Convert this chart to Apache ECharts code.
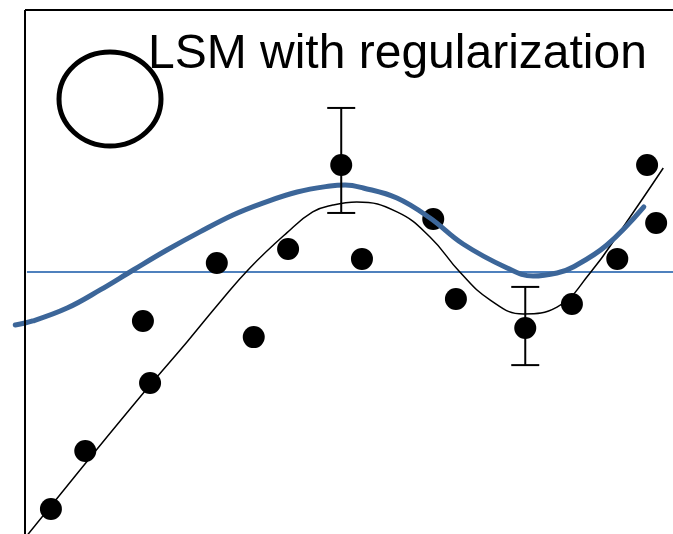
<!DOCTYPE html>
<html>
<head>
<meta charset="utf-8">
<script src="https://cdn.jsdelivr.net/npm/echarts@6/dist/echarts.min.js"></script>
<style>
  html, body { margin: 0; padding: 0; background: #ffffff; }
  #chart { width: 673px; height: 534px; }
</style>
</head>
<body>
<div id="chart"></div>
<script>
const titleText = 'LSM with regularization';

// noisy observations
const obsX = [0.040, 0.093, 0.182, 0.193, 0.296, 0.353, 0.406, 0.488, 0.520, 0.630, 0.665, 0.772, 0.844, 0.914, 0.960, 0.974];
const obsY = [-1.176, -0.888, -0.243, -0.551, 0.045, -0.323, 0.114, 0.531, 0.065, 0.263, -0.134, -0.278, -0.159, 0.065, 0.531, 0.243];

// underlying curve
const trueX = [0.000, 0.100, 0.193, 0.250, 0.301, 0.347, 0.404, 0.444, 0.475, 0.512, 0.574, 0.625, 0.671, 0.718, 0.769, 0.821, 0.872, 0.923, 0.985];
const trueY = [-1.320, -0.923, -0.561, -0.347, -0.149, 0.020, 0.194, 0.298, 0.332, 0.347, 0.298, 0.174, 0.000, -0.139, -0.208, -0.174, -0.005, 0.223, 0.516];

// regularized least-squares fit
const fitX = [-0.015, 0.012, 0.065, 0.116, 0.167, 0.219, 0.270, 0.321, 0.367, 0.420, 0.471, 0.494, 0.522, 0.574, 0.625, 0.676, 0.744, 0.784, 0.821, 0.846, 0.898, 0.955];
const fitY = [-0.263, -0.243, -0.179, -0.089, 0.010, 0.109, 0.199, 0.283, 0.342, 0.397, 0.427, 0.432, 0.417, 0.367, 0.268, 0.139, 0.020, -0.020, -0.005, 0.025, 0.134, 0.323];

// mean level
const meanX = [0.003, 1.0];
const meanY = [0, 0];

// error bars
const errX = [0.488, 0.772];
const errLow = [0.293, -0.462];
const errHigh = [0.814, -0.074];

// axis ranges; the frame sits at x = 0 and along the top edge
const xRange = [-0.02, 1];
const yRange = [-1.3, 1.3];
const frameX = 0;

const zip = (xs, ys) => xs.map((x, i) => [x, ys[i]]);

const chart = echarts.init(document.getElementById('chart'), null, { renderer: 'canvas' });

chart.setOption({
  animation: false,
  backgroundColor: '#ffffff',
  title: {
    text: titleText,
    left: 148,
    top: 31,
    padding: 0,
    textStyle: {
      fontFamily: 'Liberation Sans, Arial, sans-serif',
      fontSize: 48,
      fontWeight: 'normal',
      color: '#000000'
    }
  },
  grid: { left: 12.04, right: 0, top: 10, bottom: 0, containLabel: false },
  xAxis: {
    type: 'value',
    min: xRange[0],
    max: xRange[1],
    axisLine: { show: false },
    axisTick: { show: false },
    axisLabel: { show: false },
    splitLine: { show: false }
  },
  yAxis: {
    type: 'value',
    min: yRange[0],
    max: yRange[1],
    axisLine: { show: false },
    axisTick: { show: false },
    axisLabel: { show: false },
    splitLine: { show: false }
  },
  graphic: [{
    type: 'ellipse',
    shape: { cx: 110, cy: 99, rx: 51, ry: 47 },
    style: { fill: 'none', stroke: '#000000', lineWidth: 5 },
    z: 10
  }],
  series: [
    {
      name: 'mean',
      type: 'line',
      data: zip(meanX, meanY),
      showSymbol: false,
      lineStyle: { color: '#4F81BD', width: 2 },
      z: 1,
      markLine: {
        silent: true,
        symbol: 'none',
        label: { show: false },
        lineStyle: { color: '#000000', width: 2, type: 'solid' },
        data: [
          [{ coord: [frameX, yRange[0]] }, { coord: [frameX, yRange[1]] }],
          [{ coord: [frameX, yRange[1]] }, { coord: [xRange[1], yRange[1]] }]
        ]
      }
    },
    {
      name: 'observations',
      type: 'scatter',
      data: zip(obsX, obsY),
      symbol: 'circle',
      symbolSize: 22,
      itemStyle: { color: '#000000', opacity: 1 },
      z: 2
    },
    {
      name: 'true curve',
      type: 'line',
      data: zip(trueX, trueY),
      smooth: 0.45,
      showSymbol: false,
      clip: true,
      lineStyle: { color: '#000000', width: 1.5 },
      z: 3
    },
    {
      name: 'regularized fit',
      type: 'line',
      data: zip(fitX, fitY),
      smooth: 0.4,
      showSymbol: false,
      lineStyle: { color: '#3C6699', width: 5, cap: 'round' },
      z: 4
    },
    {
      name: 'error bars',
      type: 'custom',
      data: errX.map((x, i) => [x, errLow[i], errHigh[i]]),
      encode: { x: 0, y: [1, 2] },
      clip: false,
      z: 5,
      renderItem: function (params, api) {
        const x = api.value(0);
        const lo = api.coord([x, api.value(1)]);
        const hi = api.coord([x, api.value(2)]);
        const hw = 14;
        const st = { stroke: '#000000', lineWidth: 2 };
        return {
          type: 'group',
          children: [
            { type: 'line', shape: { x1: lo[0], y1: lo[1], x2: hi[0], y2: hi[1] }, style: st },
            { type: 'line', shape: { x1: lo[0] - hw, y1: lo[1], x2: lo[0] + hw, y2: lo[1] }, style: st },
            { type: 'line', shape: { x1: hi[0] - hw, y1: hi[1], x2: hi[0] + hw, y2: hi[1] }, style: st }
          ]
        };
      }
    }
  ]
});
</script>
</body>
</html>
